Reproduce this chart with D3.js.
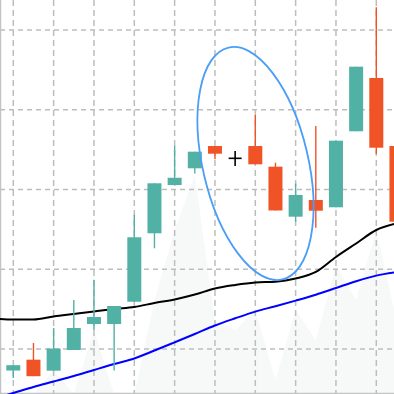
<!DOCTYPE html>
<html>
<head>
<meta charset="utf-8">
<script src="https://cdn.jsdelivr.net/npm/d3@7"></script>
<style>
  html, body { margin: 0; padding: 0; background: #fff; }
  svg { display: block; }
</style>
</head>
<body>
<div id="chart"></div>
<script>
// candle data, index 0..19 (last one is cut by the right edge)
const opens  = [97.30, 98.66, 97.28, 99.87, 103.13, 103.13, 105.93, 114.51, 120.56, 122.66, 125.45, 123.91, 125.45, 122.86, 116.59, 118.68, 117.77, 127.30, 133.98, 125.45];
const closes = [97.97, 96.59, 100.06, 102.63, 104.01, 105.39, 114.01, 120.78, 121.47, 124.74, 124.49, 123.91, 123.16, 117.37, 119.31, 117.34, 126.12, 135.40, 125.24, 115.96];
const highs  = [97.97, 100.75, 102.63, 106.14, 108.69, 105.39, 116.80, 120.78, 125.49, 124.74, 125.45, 124.83, 129.34, 123.36, 120.75, 127.96, 126.12, 135.40, 142.85, 125.45];
const lows   = [96.36, 96.59, 97.28, 99.87, 102.38, 97.30, 105.93, 112.63, 120.56, 122.01, 123.80, 122.95, 123.16, 117.37, 115.96, 115.21, 117.77, 127.30, 124.45, 115.96];

// moving averages and faint background series, index -1..19
const maIndex = d3.range(-1, 20);
const maSlow  = [103.82, 103.70, 103.70, 104.08, 104.39, 104.70, 105.02, 105.27, 105.77, 106.21, 106.83, 107.59, 108.03, 108.34, 108.44, 108.84, 109.66, 111.54, 113.23, 114.92, 115.74];
const maLong  = [93.73, 94.48, 95.24, 95.92, 96.61, 97.37, 98.12, 98.81, 99.81, 100.84, 101.88, 102.95, 103.85, 104.69, 105.37, 106.07, 106.81, 107.65, 108.50, 109.20, 109.63];
const shade   = [94.36, 94.36, 94.36, 97.37, 94.36, 102.38, 94.36, 94.36, 106.14, 114.92, 121.82, 103.64, 102.38, 104.89, 96.11, 104.89, 101.13, 110.53, 106.14, 114.92, 103.64];

const gridX = [0, 2, 4, 6, 8, 10, 12, 14, 16, 18];
const gridY = [100, 110, 120, 130, 140];

// ellipse annotation around the top (index, price)
const markCenter = [12.01, 123.26];

const width = 394, height = 394;
const up = '#52b1a5', down = '#ef5326';

const svg = d3.select('#chart').append('svg')
  .attr('width', width)
  .attr('height', height);

const x = d3.scaleLinear().domain([0, 18]).range([13.3, 376.3]);
const y = d3.scaleLinear().domain([100, 140]).range([349, 30]);

// faint background area
svg.append('path')
  .datum(maIndex)
  .attr('fill', '#f7f9f9')
  .attr('d', d3.area()
    .x(i => x(i))
    .y0(height)
    .y1((i, k) => y(shade[k])));

// grid
svg.append('g')
  .selectAll('line')
  .data(gridX)
  .join('line')
  .attr('x1', d => x(d)).attr('x2', d => x(d))
  .attr('y1', 0).attr('y2', height)
  .attr('stroke', '#bdbdbd')
  .attr('stroke-width', 1.5)
  .attr('stroke-dasharray', '6,4');

svg.append('g')
  .selectAll('line')
  .data(gridY)
  .join('line')
  .attr('x1', 0).attr('x2', width)
  .attr('y1', d => y(d)).attr('y2', d => y(d))
  .attr('stroke', '#bdbdbd')
  .attr('stroke-width', 1.5)
  .attr('stroke-dasharray', '5,4');

// frame on the left and bottom
svg.append('path')
  .attr('d', `M0.5,0V${height - 0.5}H${width}`)
  .attr('fill', 'none')
  .attr('stroke', '#c4c4c4')
  .attr('stroke-width', 1.5);

// moving averages
const line = vals => d3.line()
  .curve(d3.curveMonotoneX)
  .x(i => x(i))
  .y((i, k) => y(vals[k]));

svg.append('path')
  .datum(maIndex)
  .attr('fill', 'none')
  .attr('stroke', '#000')
  .attr('stroke-width', 2)
  .attr('d', line(maSlow));

svg.append('path')
  .datum(maIndex)
  .attr('fill', 'none')
  .attr('stroke', '#0000ff')
  .attr('stroke-width', 2)
  .attr('d', line(maLong));

// candles
const candles = opens.map((o, i) => ({ i, o, c: closes[i], h: highs[i], l: lows[i] }));
const bw = 14;
const col = d => d.c > d.o ? up : d.c < d.o ? down : '#000';

const g = svg.append('g');

g.selectAll('line.wick')
  .data(candles)
  .join('line')
  .attr('class', 'wick')
  .attr('x1', d => x(d.i)).attr('x2', d => x(d.i))
  .attr('y1', d => y(d.h)).attr('y2', d => y(d.l))
  .attr('stroke', col)
  .attr('stroke-width', d => d.o === d.c ? 1.6 : 1.4);

g.selectAll('rect')
  .data(candles.filter(d => d.o !== d.c))
  .join('rect')
  .attr('x', d => x(d.i) - bw / 2)
  .attr('width', bw)
  .attr('y', d => y(Math.max(d.o, d.c)))
  .attr('height', d => Math.abs(y(d.o) - y(d.c)))
  .attr('fill', col);

// doji drawn as a cross
g.selectAll('line.doji')
  .data(candles.filter(d => d.o === d.c))
  .join('line')
  .attr('class', 'doji')
  .attr('x1', d => x(d.i) - 6.5).attr('x2', d => x(d.i) + 6.5)
  .attr('y1', d => y(d.o)).attr('y2', d => y(d.o))
  .attr('stroke', '#000')
  .attr('stroke-width', 1.6);

// ellipse annotation
svg.append('ellipse')
  .attr('cx', 0).attr('cy', 0)
  .attr('rx', 119).attr('ry', 52.7)
  .attr('transform', `translate(${x(markCenter[0])},${y(markCenter[1])}) rotate(76.9)`)
  .attr('fill', 'none')
  .attr('stroke', '#4a9ef7')
  .attr('stroke-width', 1.8);
</script>
</body>
</html>
